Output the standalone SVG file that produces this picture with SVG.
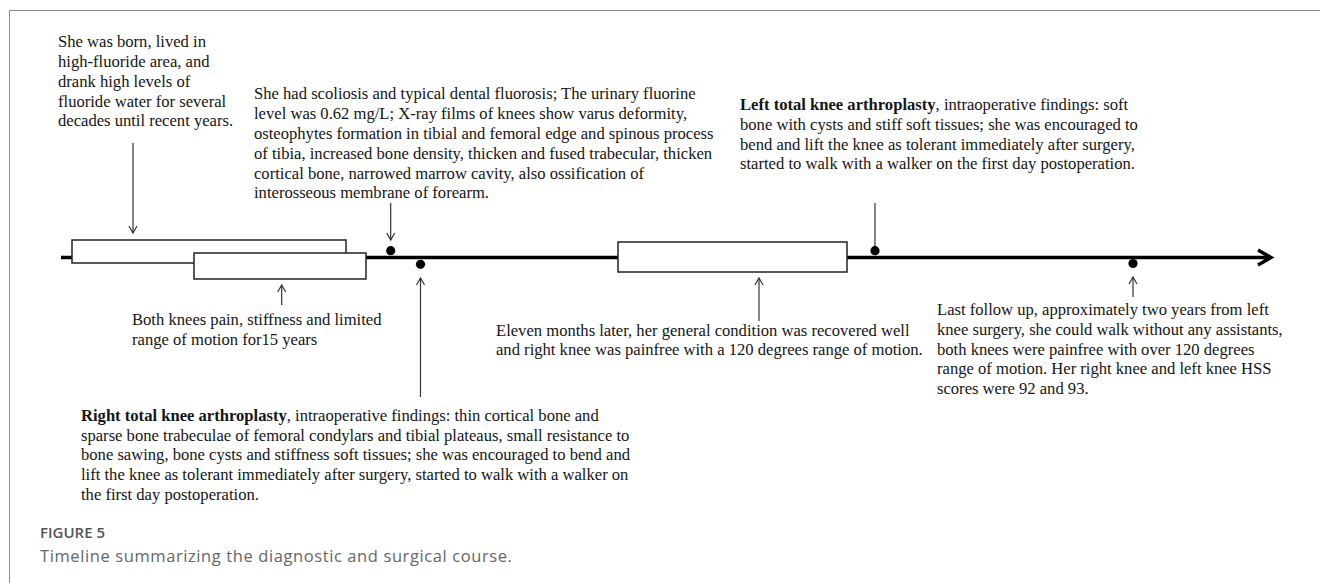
<svg xmlns="http://www.w3.org/2000/svg" width="1320" height="583" viewBox="0 0 1320 583">
<defs>
<style>
.t{font-family:"Liberation Serif","Times New Roman",serif;font-size:16.6px;fill:#151515}
.b{font-weight:bold}
.box{fill:#fff;stroke:#222;stroke-width:1.5}
.ptr{stroke:#333;stroke-width:1.2;fill:none}
.dot{fill:#000}
.cap1{font-family:"Open Sans","Noto Sans",sans-serif;font-size:15px;font-weight:600;fill:#555}
.cap2{font-family:"Open Sans","Noto Sans",sans-serif;font-size:16.5px;letter-spacing:0.6px;fill:#666}
</style>
<marker id="ah" markerWidth="10" markerHeight="10" refX="8" refY="5" orient="auto" markerUnits="userSpaceOnUse">
<path d="M1,1 L8,5 L1,9" fill="none" stroke="#333" stroke-width="1.2"/>
</marker>
</defs>
<rect width="1320" height="583" fill="#fff"/>
<path d="M9.5,583 V10.5 H1320" fill="none" stroke="#888" stroke-width="1"/>

<g id="connectors">
<line x1="61" y1="257.5" x2="1268" y2="257.5" stroke="#000" stroke-width="3.5"/>
<path d="M1258,250 L1271,257.5 L1258,265" fill="none" stroke="#000" stroke-width="3.5"/>
<line class="ptr" x1="133" y1="143" x2="133" y2="233" marker-end="url(#ah)"/>
<line class="ptr" x1="390.7" y1="203" x2="390.7" y2="240" marker-end="url(#ah)"/>
<line class="ptr" x1="281.7" y1="305" x2="281.7" y2="285" marker-end="url(#ah)"/>
<line class="ptr" x1="420.5" y1="397" x2="420.5" y2="278" marker-end="url(#ah)"/>
<line class="ptr" x1="759" y1="321" x2="759" y2="278" marker-end="url(#ah)"/>
<line class="ptr" x1="875" y1="203" x2="875" y2="250"/>
<line class="ptr" x1="1133" y1="297" x2="1133" y2="277" marker-end="url(#ah)"/>
</g>

<g id="box-fluoride"><rect class="box" x="72" y="240" width="274" height="23"/></g>
<g id="box-pain"><rect class="box" x="194" y="253" width="172" height="26"/></g>
<g id="box-recovery"><rect class="box" x="618" y="242" width="229" height="30"/></g>

<g id="dot-diagnosis"><circle class="dot" cx="390.7" cy="250.7" r="4.6"/></g>
<g id="dot-right-tka"><circle class="dot" cx="420.5" cy="264.3" r="4.6"/></g>
<g id="dot-left-tka"><circle class="dot" cx="875" cy="250.7" r="4.6"/></g>
<g id="dot-followup"><circle class="dot" cx="1133" cy="263.5" r="4.6"/></g>

<g id="note-born">
<text class="t" x="58" y="47">She was born, lived in</text>
<text class="t" x="58" y="67">high-fluoride area, and</text>
<text class="t" x="58" y="87">drank high levels of</text>
<text class="t" x="58" y="107">fluoride water for several</text>
<text class="t" x="58" y="126">decades until recent years.</text>
</g>

<g id="note-diagnosis">
<text class="t" x="254" y="99">She had scoliosis and typical dental fluorosis; The urinary fluorine</text>
<text class="t" x="254" y="119">level was 0.62 mg/L; X-ray films of knees show varus deformity,</text>
<text class="t" x="254" y="139">osteophytes formation in tibial and femoral edge and spinous process</text>
<text class="t" x="254" y="159">of tibia, increased bone density, thicken and fused trabecular, thicken</text>
<text class="t" x="254" y="179">cortical bone, narrowed marrow cavity, also ossification of</text>
<text class="t" x="254" y="198">interosseous membrane of forearm.</text>
</g>

<g id="note-left-tka">
<text class="t" x="740" y="110"><tspan class="b">Left total knee arthroplasty</tspan>, intraoperative findings: soft</text>
<text class="t" x="740" y="130">bone with cysts and stiff soft tissues; she was encouraged to</text>
<text class="t" x="740" y="150">bend and lift the knee as tolerant immediately after surgery,</text>
<text class="t" x="740" y="169">started to walk with a walker on the first day postoperation.</text>
</g>

<g id="note-pain">
<text class="t" x="132" y="325">Both knees pain, stiffness and limited</text>
<text class="t" x="132" y="345">range of motion for15 years</text>
</g>

<g id="note-recovery">
<text class="t" x="496" y="336">Eleven months later, her general condition was recovered well</text>
<text class="t" x="496" y="355">and right knee was painfree with a 120 degrees range of motion.</text>
</g>

<g id="note-followup">
<text class="t" x="937" y="315">Last follow up, approximately two years from left</text>
<text class="t" x="937" y="335">knee surgery, she could walk without any assistants,</text>
<text class="t" x="937" y="355">both knees were painfree with over 120 degrees</text>
<text class="t" x="937" y="374">range of motion. Her right knee and left knee HSS</text>
<text class="t" x="937" y="394">scores were 92 and 93.</text>
</g>

<g id="note-right-tka">
<text class="t" x="81" y="421"><tspan class="b">Right total knee arthroplasty</tspan>, intraoperative findings: thin cortical bone and</text>
<text class="t" x="81" y="441">sparse bone trabeculae of femoral condylars and tibial plateaus, small resistance to</text>
<text class="t" x="81" y="460">bone sawing, bone cysts and stiffness soft tissues; she was encouraged to bend and</text>
<text class="t" x="81" y="480">lift the knee as tolerant immediately after surgery, started to walk with a walker on</text>
<text class="t" x="81" y="500">the first day postoperation.</text>
</g>

<g id="caption">
<text class="cap1" x="40" y="538">FIGURE 5</text>
<text class="cap2" x="40" y="562">Timeline summarizing the diagnostic and surgical course.</text>
</g>
</svg>
